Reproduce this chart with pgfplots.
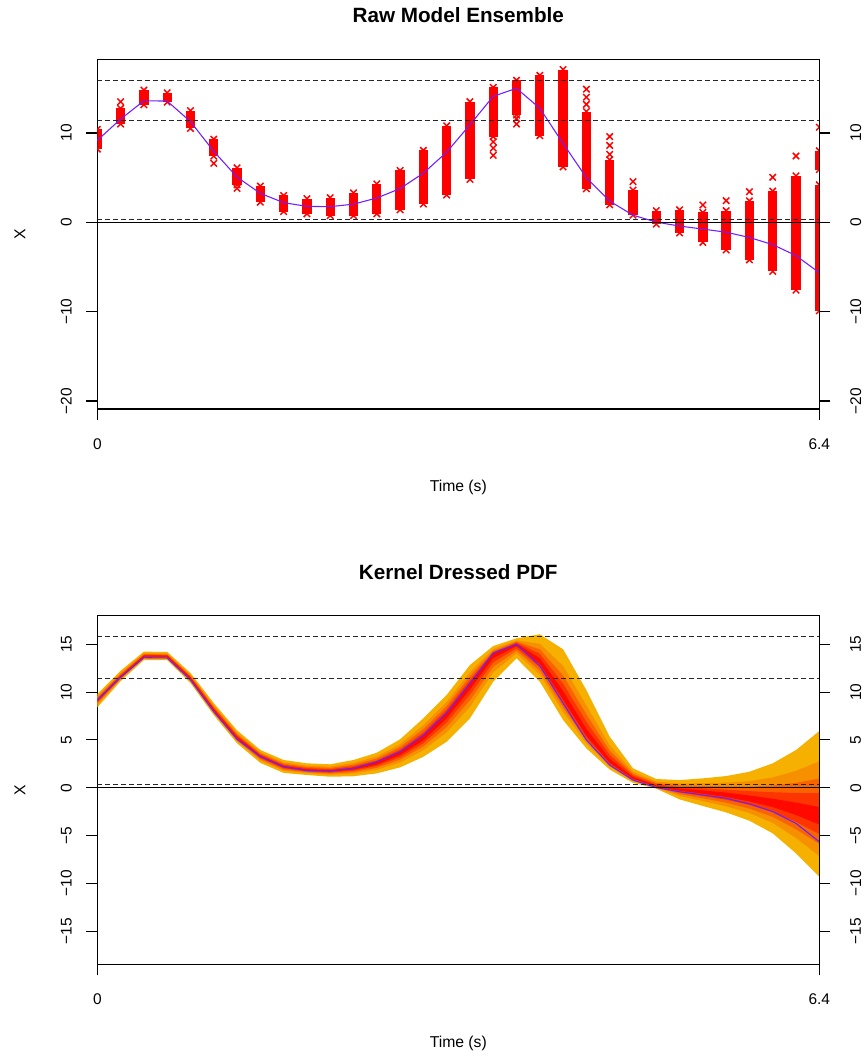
\documentclass[border=0pt]{standalone}
\usepackage{fontspec}
\setmainfont{Liberation Sans}
\usepackage{pgfplots}
\usepackage{pgfplotstable}
\pgfplotsset{compat=1.18}
\usepgfplotslibrary{fillbetween}

\definecolor{bandA}{RGB}{245,176,0}
\definecolor{bandB}{RGB}{247,144,0}
\definecolor{bandC}{RGB}{250,100,0}
\definecolor{bandD}{RGB}{253,53,0}
\definecolor{bandE}{RGB}{255,8,0}
\definecolor{ctrl}{RGB}{110,30,255}

% Ensemble spread at each output time: one vertical run per time step
\pgfplotstableread{
t y
0.0000 8.20
0.0000 10.40
nan nan
0.2065 11.00
0.2065 12.75
nan nan
0.4129 13.15
0.4129 14.80
nan nan
0.6194 13.45
0.6194 14.50
nan nan
0.8258 10.50
0.8258 12.50
nan nan
1.0323 7.40
1.0323 9.30
nan nan
1.2387 4.20
1.2387 6.10
nan nan
1.4452 2.25
1.4452 4.05
nan nan
1.6516 1.20
1.6516 3.00
nan nan
1.8581 0.95
1.8581 2.65
nan nan
2.0645 0.75
2.0645 2.75
nan nan
2.2710 0.75
2.2710 3.30
nan nan
2.4774 0.95
2.4774 4.30
nan nan
2.6839 1.40
2.6839 5.80
nan nan
2.8903 2.05
2.8903 8.05
nan nan
3.0968 3.05
3.0968 10.80
nan nan
3.3032 4.80
3.3032 13.50
nan nan
3.5097 9.60
3.5097 15.10
nan nan
3.7161 12.00
3.7161 15.90
nan nan
3.9226 9.70
3.9226 16.45
nan nan
4.1290 6.20
4.1290 17.10
nan nan
4.3355 3.75
4.3355 12.40
nan nan
4.5419 1.95
4.5419 7.00
nan nan
4.7484 0.80
4.7484 3.60
nan nan
4.9548 -0.20
4.9548 1.30
nan nan
5.1613 -1.20
5.1613 1.40
nan nan
5.3677 -2.25
5.3677 1.10
nan nan
5.5742 -3.10
5.5742 1.30
nan nan
5.7806 -4.20
5.7806 2.40
nan nan
5.9871 -5.50
5.9871 3.50
nan nan
6.1935 -7.60
6.1935 5.20
nan nan
6.4000 5.90
6.4000 8.00
nan nan
6.4000 -9.90
6.4000 4.20
}\ensemble

% Isolated members away from the main runs
\pgfplotstableread{
t y
0.2065 13.50
1.0323 6.60
1.2387 3.80
3.5097 9.00
3.5097 8.30
3.5097 7.50
3.7161 11.60
3.7161 11.00
4.3355 14.90
4.3355 14.00
4.3355 13.20
4.5419 9.60
4.5419 8.60
4.5419 7.60
4.7484 4.55
5.3677 1.94
5.5742 2.42
5.7806 3.43
5.9871 5.04
6.1935 7.42
6.4000 10.64
}\outliers

% Nested probability bands (outer u1/l1 to inner u5/l5) and control run b
\pgfplotstableread{
t u1 l1 u2 l2 u3 l3 u4 l4 u5 l5 b
0.0000 9.80 8.40 9.57 8.66 9.44 8.81 9.33 8.94 9.23 9.06 9.17
0.2065 12.24 11.15 12.02 11.31 11.89 11.40 11.78 11.47 11.68 11.55 11.55
0.4129 14.23 13.35 14.06 13.49 13.97 13.57 13.88 13.64 13.81 13.70 13.60
0.6194 14.20 13.35 14.04 13.49 13.95 13.57 13.88 13.64 13.80 13.70 13.57
0.8258 12.00 10.95 11.81 11.12 11.70 11.22 11.60 11.31 11.52 11.39 11.27
1.0323 8.85 7.60 8.61 7.79 8.47 7.90 8.35 8.00 8.23 8.08 7.95
1.2387 6.00 4.65 5.74 4.86 5.59 4.98 5.46 5.08 5.34 5.18 5.06
1.4452 3.95 2.60 3.72 2.84 3.59 2.98 3.48 3.10 3.38 3.22 3.24
1.6516 2.90 1.55 2.66 1.78 2.52 1.91 2.40 2.02 2.28 2.12 2.20
1.8581 2.55 1.33 2.31 1.51 2.17 1.62 2.05 1.70 1.93 1.79 1.78
2.0645 2.45 1.15 2.21 1.36 2.07 1.48 1.95 1.58 1.83 1.68 1.75
2.2710 2.90 1.20 2.59 1.48 2.41 1.64 2.25 1.78 2.11 1.90 2.03
2.4774 3.66 1.50 3.27 1.87 3.05 2.08 2.86 2.26 2.68 2.42 2.72
2.6839 5.06 2.13 4.55 2.64 4.26 2.94 4.01 3.19 3.78 3.42 3.77
2.8903 7.26 3.24 6.54 3.93 6.13 4.32 5.78 4.65 5.45 4.96 5.50
3.0968 9.70 4.81 8.97 5.79 8.55 6.34 8.19 6.82 7.85 7.27 7.85
3.3032 12.83 7.26 12.08 8.46 11.66 9.15 11.30 9.74 10.96 10.29 10.92
3.5097 14.82 11.09 14.50 12.07 14.31 12.64 14.16 13.11 14.01 13.56 14.10
3.7161 15.63 13.54 15.41 14.05 15.28 14.34 15.18 14.59 15.08 14.82 15.00
3.9226 16.04 11.09 15.05 11.83 14.48 12.25 14.00 12.61 13.54 12.95 12.76
4.1290 14.48 7.08 12.74 7.93 11.74 8.41 10.89 8.82 10.10 9.21 8.83
4.3355 10.20 4.12 8.59 4.64 7.67 4.93 6.89 5.19 6.15 5.42 4.99
4.5419 5.34 1.90 4.42 2.18 3.89 2.34 3.44 2.48 3.02 2.60 2.37
4.7484 2.03 0.52 1.67 0.69 1.46 0.78 1.29 0.87 1.12 0.94 0.80
4.9548 0.91 -0.10 0.64 -0.01 0.49 0.04 0.36 0.08 0.24 0.12 0.02
5.1613 0.80 -1.22 0.45 -0.86 0.25 -0.66 0.08 -0.49 -0.08 -0.32 -0.42
5.3677 0.98 -1.91 0.48 -1.40 0.19 -1.11 -0.05 -0.86 -0.28 -0.63 -0.76
5.5742 1.22 -2.58 0.53 -1.94 0.14 -1.57 -0.20 -1.26 -0.51 -0.97 -1.11
5.7806 1.67 -3.45 0.68 -2.65 0.12 -2.19 -0.36 -1.79 -0.81 -1.43 -1.70
5.9871 2.55 -4.77 1.08 -3.68 0.24 -3.05 -0.47 -2.52 -1.15 -2.02 -2.50
6.1935 3.94 -6.86 1.76 -5.26 0.51 -4.35 -0.55 -3.58 -1.55 -2.85 -3.73
6.4000 5.93 -9.31 2.77 -7.14 0.96 -5.89 -0.57 -4.84 -2.02 -3.85 -5.65
}\bands

\pgfplotsset{
  rpanel/.style={
    scale only axis, width=541.5pt,
    xmin=0, xmax=6.4,
    axis line style={line width=0.85pt},
    every tick/.style={black, line width=0.85pt},
    tick align=outside,
    major tick length=8.25pt,
    xtick={0,6.4}, xticklabels={0,6.4},
    xtick pos=left, ytick pos=left,
    tick label style={font=\fontsize{11.6}{13}\selectfont},
    yticklabel style={rotate=90, anchor=south, inner sep=0pt},
    yticklabel shift=10.75pt,
    xticklabel style={anchor=north, inner sep=0pt},
    xticklabel shift=13.5pt,
    label style={font=\fontsize{11.8}{14}\selectfont},
    every axis title shift=0pt,
    title style={font=\bfseries\fontsize{15.5}{18}\selectfont, anchor=center},
    clip marker paths=true,
    unbounded coords=jump,
  },
  rright/.style={
    scale only axis, width=541.5pt,
    xmin=0, xmax=6.4,
    hide x axis, axis y line*=right,
    axis line style={line width=0.85pt},
    every tick/.style={black, line width=0.85pt},
    tick align=outside,
    major tick length=8.25pt,
    tick label style={font=\fontsize{11.6}{13}\selectfont},
    yticklabel style={rotate=90, anchor=north, inner sep=0pt},
    yticklabel shift=14.75pt,
  },
  refline/.style={black!85, line width=0.7pt, dash pattern=on 3.4pt off 2.6pt},
  members/.style={red, line width=7pt, mark=x, mark size=3.4pt,
    mark options={line width=1.1pt, solid}},
}

\begin{document}
\begin{tikzpicture}
\path (0,0) rectangle (648pt,792.75pt);

% ---------------- upper panel ----------------
\begin{axis}[rpanel, at={(72.98pt,486pt)}, anchor=south west,
  height=262.3pt, ymin=-20.9, ymax=18.25,
  ytick={-20,-10,0,10}, yticklabels={−20,−10,0,10},
  title={Raw Model Ensemble},
  title style={at={(axis description cs:0.5,1.1267)}},
  xlabel={Time (s)},
  xlabel style={at={(axis description cs:0.5,-0.2230)}, anchor=center},
  ylabel={X},
  ylabel style={at={(axis description cs:-0.1071,0.5)}, anchor=center}]
\addplot[members] table[x=t, y=y] {\ensemble};
\addplot[red, only marks, mark=x, mark size=3.4pt,
  mark options={line width=1.1pt}] table[x=t, y=y] {\outliers};
\addplot[ctrl, line width=0.8pt] table[x=t, y=b] {\bands};
\addplot[refline] coordinates {(0,15.85) (6.4,15.85)};
\addplot[refline] coordinates {(0,11.45) (6.4,11.45)};
\addplot[refline] coordinates {(0,0.37) (6.4,0.37)};
\addplot[black, line width=0.75pt] coordinates {(0,0) (6.4,0)};
\end{axis}
\begin{axis}[rright, at={(72.98pt,486pt)}, anchor=south west,
  height=262.3pt, ymin=-20.9, ymax=18.25,
  ytick={-20,-10,0,10}, yticklabels={−20,−10,0,10}]
\addplot[draw=none] coordinates {(0,0) (6.4,0)};
\end{axis}

% ---------------- lower panel ----------------
\begin{axis}[rpanel, at={(72.98pt,69.5pt)}, anchor=south west,
  height=261.75pt, ymin=-18.47, ymax=18.03,
  ytick={-15,-10,-5,0,5,10,15}, yticklabels={−15,−10,−5,0,5,10,15},
  title={Kernel Dressed PDF},
  title style={at={(axis description cs:0.5,1.124)}},
  xlabel={Time (s)},
  xlabel style={at={(axis description cs:0.5,-0.2255)}, anchor=center},
  ylabel={X},
  ylabel style={at={(axis description cs:-0.1071,0.5)}, anchor=center}]
\addplot[name path=uA, draw=none] table[x=t, y=u1] {\bands};
\addplot[name path=lA, draw=none] table[x=t, y=l1] {\bands};
\addplot[bandA] fill between[of=uA and lA];
\addplot[name path=uB, draw=none] table[x=t, y=u2] {\bands};
\addplot[name path=lB, draw=none] table[x=t, y=l2] {\bands};
\addplot[bandB] fill between[of=uB and lB];
\addplot[name path=uC, draw=none] table[x=t, y=u3] {\bands};
\addplot[name path=lC, draw=none] table[x=t, y=l3] {\bands};
\addplot[bandC] fill between[of=uC and lC];
\addplot[name path=uD, draw=none] table[x=t, y=u4] {\bands};
\addplot[name path=lD, draw=none] table[x=t, y=l4] {\bands};
\addplot[bandD] fill between[of=uD and lD];
\addplot[name path=uE, draw=none] table[x=t, y=u5] {\bands};
\addplot[name path=lE, draw=none] table[x=t, y=l5] {\bands};
\addplot[bandE] fill between[of=uE and lE];
\addplot[ctrl, line width=0.8pt] table[x=t, y=b] {\bands};
\addplot[refline] coordinates {(0,15.8) (6.4,15.8)};
\addplot[refline] coordinates {(0,11.4) (6.4,11.4)};
\addplot[refline] coordinates {(0,0.39) (6.4,0.39)};
\addplot[black, line width=0.75pt] coordinates {(0,0) (6.4,0)};
\end{axis}
\begin{axis}[rright, at={(72.98pt,69.5pt)}, anchor=south west,
  height=261.75pt, ymin=-18.47, ymax=18.03,
  ytick={-15,-10,-5,0,5,10,15}, yticklabels={−15,−10,−5,0,5,10,15}]
\addplot[draw=none] coordinates {(0,0) (6.4,0)};
\end{axis}
\end{tikzpicture}
\end{document}
